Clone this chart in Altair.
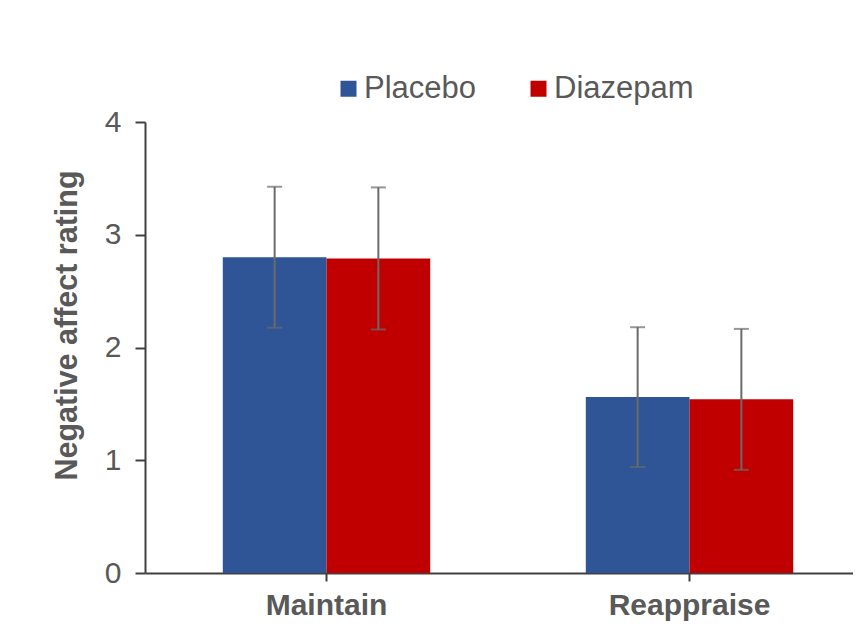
import altair as alt
import pandas as pd

conditions = ["Maintain", "Maintain", "Reappraise", "Reappraise"]
groups = ["Placebo", "Diazepam", "Placebo", "Diazepam"]
means = [2.80, 2.79, 1.56, 1.54]
errs = [0.625, 0.63, 0.62, 0.625]

group_order = ["Placebo", "Diazepam"]
condition_order = ["Maintain", "Reappraise"]
bar_colors = ["#2F5597", "#C00000"]

df = pd.DataFrame({"condition": conditions, "group": groups, "mean": means, "err": errs})
df["lo"] = df["mean"] - df["err"]
df["hi"] = df["mean"] + df["err"]

FONT = "Liberation Sans"
TXT = "#595959"
AXC = "#404040"
ERRC = "#6a6a6a"

x_enc = alt.X(
    "condition:N",
    sort=condition_order,
    title=None,
    scale=alt.Scale(range=[0, 726], paddingInner=0, paddingOuter=0),
    axis=alt.Axis(
        labelAngle=0, labelFontSize=30, labelFontWeight="bold", labelColor=TXT,
        labelFont=FONT, tickSize=8, tickColor=AXC, tickWidth=2,
        domainColor=AXC, domainWidth=2, labelPadding=33,
        labelBaseline="alphabetic",
    ),
)
xo_enc = alt.XOffset("group:N", sort=group_order,
                     scale=alt.Scale(paddingOuter=0.75, paddingInner=0))

y_axis = alt.Axis(
    values=[0, 1, 2, 3, 4], grid=False, title="Negative affect rating",
    titleFontSize=30.5, titleFontWeight="bold", titleColor=TXT, titleFont=FONT,
    titleX=-69, titleY=203, titleBaseline="alphabetic", titleAngle=270,
    labelFontSize=30, labelColor=TXT, labelFont=FONT, labelPadding=14,
    tickSize=10, tickColor=AXC, tickWidth=2, domainColor=AXC, domainWidth=2,
)
y_scale = alt.Scale(domain=[0, 4], nice=False)

bars = alt.Chart(df).mark_bar().encode(
    x=x_enc,
    xOffset=xo_enc,
    y=alt.Y("mean:Q", scale=y_scale, axis=y_axis),
    color=alt.Color(
        "group:N",
        sort=group_order,
        scale=alt.Scale(domain=group_order, range=bar_colors),
        legend=alt.Legend(
            orient="none", legendX=188, legendY=-49, direction="horizontal",
            title=None, symbolType="square", symbolSize=256, symbolStrokeWidth=0,
            labelFontSize=31, labelColor=TXT, labelFont=FONT, labelOffset=0,
            columnPadding=46, padding=0, symbolOpacity=1,
        ),
    ),
)

rules = alt.Chart(df).mark_rule(color=ERRC, strokeWidth=2).encode(
    x=x_enc, xOffset=xo_enc,
    y=alt.Y("lo:Q", scale=y_scale, axis=y_axis), y2="hi:Q",
)
caps_hi = alt.Chart(df).mark_tick(color=ERRC, size=15, thickness=2).encode(
    x=x_enc, xOffset=xo_enc, y=alt.Y("hi:Q", scale=y_scale, axis=y_axis),
)
caps_lo = alt.Chart(df).mark_tick(color=ERRC, size=15, thickness=2).encode(
    x=x_enc, xOffset=xo_enc, y=alt.Y("lo:Q", scale=y_scale, axis=y_axis),
)

chart = alt.layer(bars, rules, caps_hi, caps_lo).properties(
    width=708, height=451,
    autosize=alt.AutoSizeParams(type="none"),
    padding={"left": 137, "top": 114, "right": 0, "bottom": 48},
    background="white",
).configure_view(stroke=None)

chart.save("out.html", embed_options={"renderer": "svg", "actions": False})
